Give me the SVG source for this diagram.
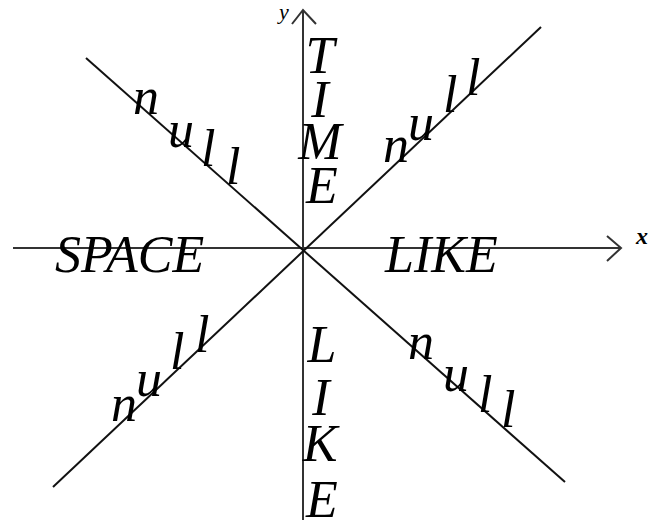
<svg xmlns="http://www.w3.org/2000/svg" width="651" height="528" viewBox="0 0 651 528">
<style>
.ax{stroke:#333;stroke-width:2;fill:none}
.dg{stroke:#111;stroke-width:2;fill:none}
.t{font-family:"Liberation Serif","Times New Roman",serif;font-style:italic;font-size:52px;fill:#000}
.m{text-anchor:middle}
.lab{font-family:"Liberation Serif","Times New Roman",serif;font-style:italic;fill:#000}
</style>
<rect width="651" height="528" fill="#fff"/>
<g id="connectors">
<line class="ax" x1="13" y1="248" x2="621" y2="248"/>
<polyline class="ax" points="607,236 621,248 607,261"/>
<line class="ax" x1="303" y1="10" x2="303" y2="520"/>
<polyline class="ax" points="292,24 303,10 316,24"/>
<line class="dg" x1="86" y1="58" x2="565" y2="482"/>
<line class="dg" x1="541" y1="27" x2="53" y2="487"/>
</g>
<g id="axis-x"><text class="lab" x="636" y="244" font-size="24" font-weight="bold">x</text></g>
<g id="axis-y"><text class="lab" x="279" y="19" font-size="22">y</text></g>
<g id="time">
<text class="t m" x="320" y="73">T</text>
<text class="t m" x="320" y="117">I</text>
<text class="t m" x="320" y="159">M</text>
<text class="t m" x="322" y="203">E</text>
</g>
<g id="like-v">
<text class="t m" x="322" y="362">L</text>
<text class="t m" x="321" y="415">I</text>
<text class="t m" x="320" y="461">K</text>
<text class="t m" x="322" y="517">E</text>
</g>
<g id="space"><text class="t" x="55" y="272">SPACE</text></g>
<g id="like-h"><text class="t" x="385" y="272">LIKE</text></g>
<g id="null-tl">
<text class="t" x="133" y="114">n</text>
<text class="t" x="168" y="147">u</text>
<text class="t" x="201" y="166">l</text>
<text class="t" x="226" y="184">l</text>
</g>
<g id="null-tr">
<text class="t" x="383" y="162">n</text>
<text class="t" x="408" y="140">u</text>
<text class="t" x="443" y="112">l</text>
<text class="t" x="466" y="95">l</text>
</g>
<g id="null-bl">
<text class="t" x="111" y="421">n</text>
<text class="t" x="136" y="396">u</text>
<text class="t" x="170" y="369">l</text>
<text class="t" x="195" y="352">l</text>
</g>
<g id="null-br">
<text class="t" x="408" y="359">n</text>
<text class="t" x="443" y="391">u</text>
<text class="t" x="478" y="412">l</text>
<text class="t" x="501" y="427">l</text>
</g>
</svg>
